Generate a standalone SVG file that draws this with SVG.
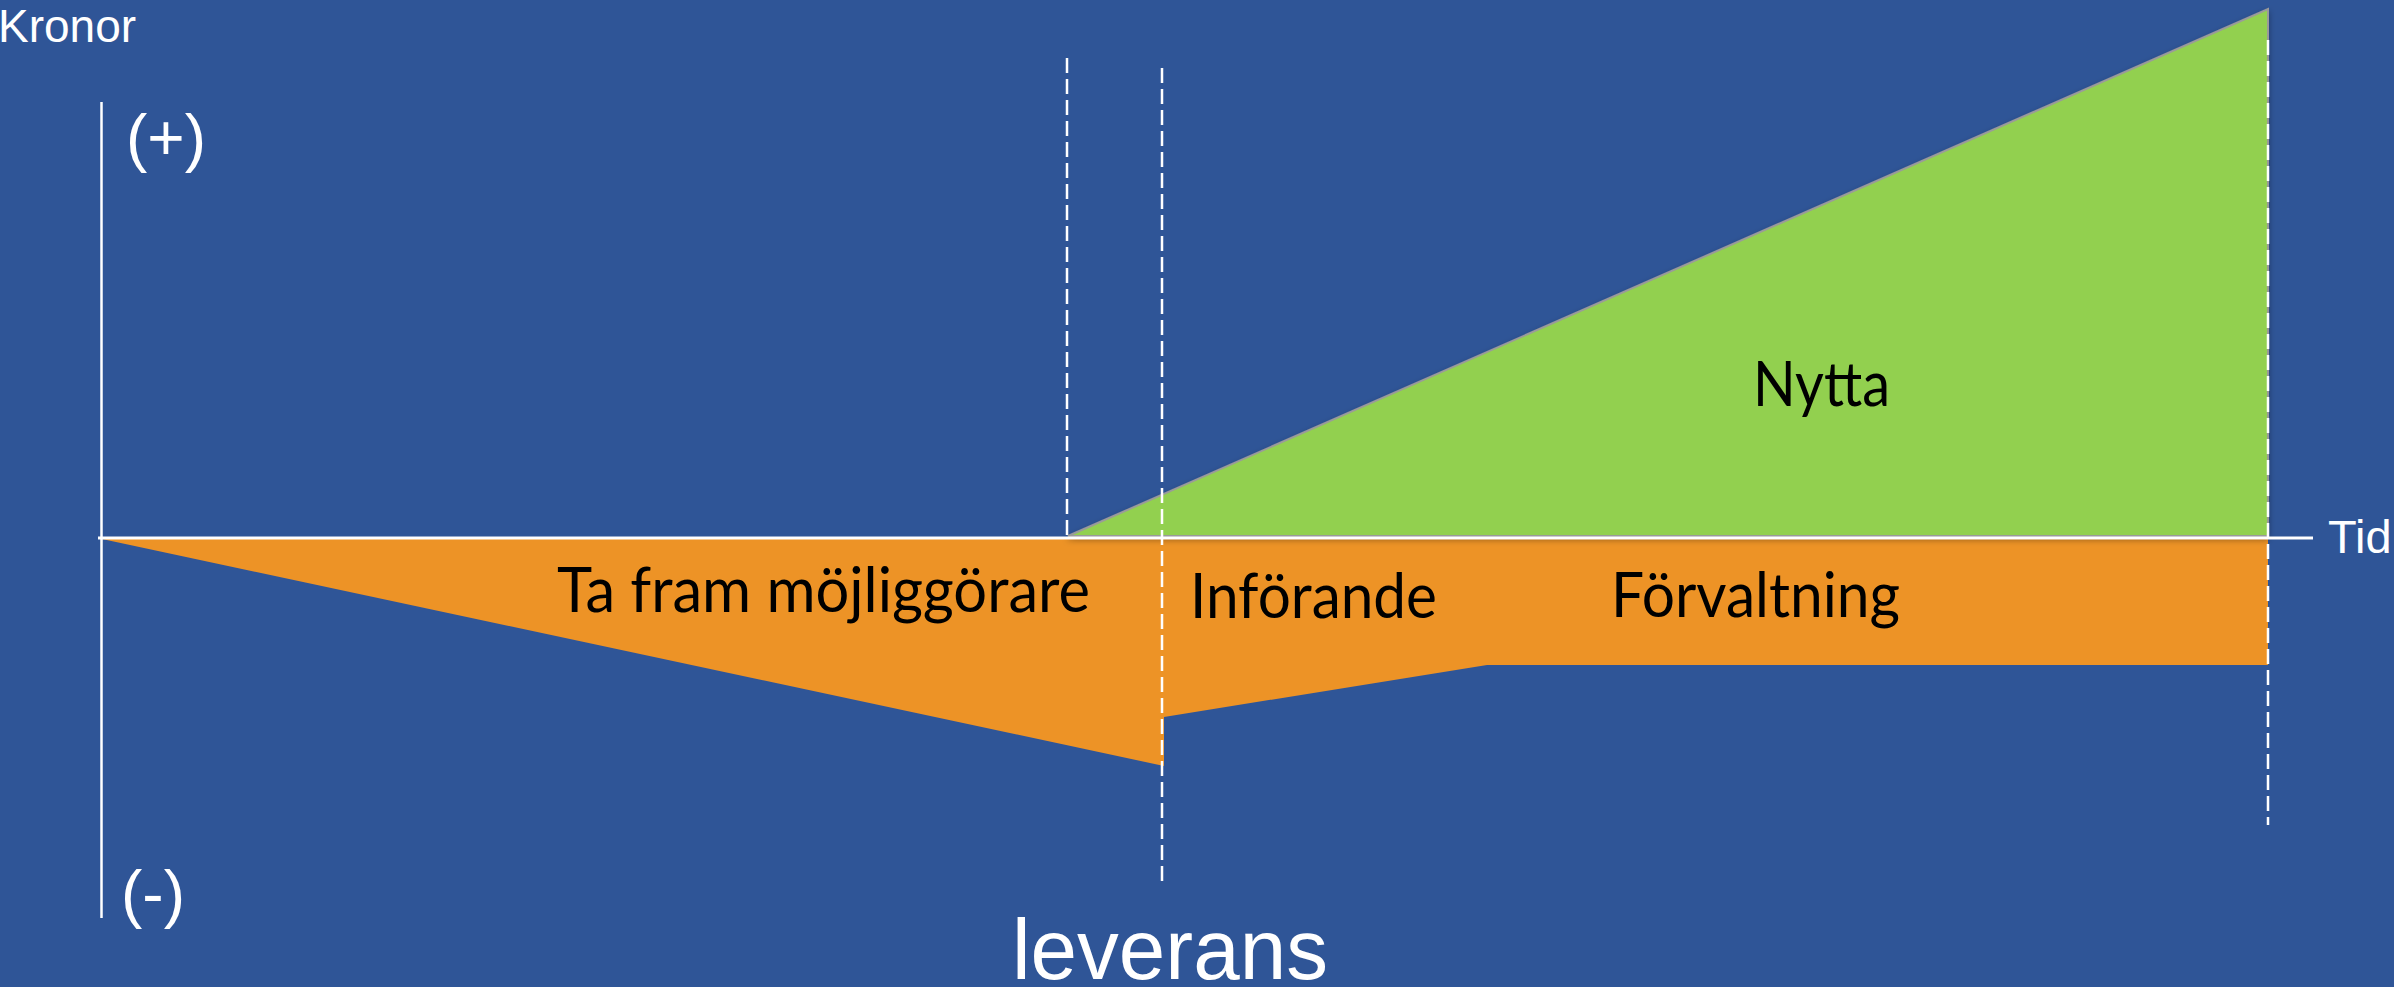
<svg xmlns="http://www.w3.org/2000/svg" width="2394" height="987" viewBox="0 0 2394 987">
<defs>
<style>
.wt{font-family:"Liberation Sans",Arial,sans-serif;fill:#ffffff}
.bt{font-family:Lato,"Noto Sans",sans-serif;fill:#000000;font-size:62px}
.dash{stroke:#ffffff;stroke-width:2.5;stroke-dasharray:15 6;fill:none}
.axis{stroke:#ffffff;fill:none}
</style>
<filter id="sh" x="-5%" y="-5%" width="110%" height="115%">
<feDropShadow dx="0" dy="3" stdDeviation="3" flood-color="#000" flood-opacity="0.35"/>
</filter>
</defs>
<rect x="0" y="0" width="2394" height="987" fill="#2F5597"/>
<g id="orange-develop">
<polygon points="102,539 1164,539 1164,766" fill="#ED9326"/>
</g>
<g id="orange-run">
<polygon points="1164,539 2268,539 2268,665 1487,665 1164,717" fill="#ED9326"/>
</g>
<g id="nytta-area">
<polygon points="1068,536 2268,9 2268,536" fill="#92D050" stroke="#9a9a9a" stroke-width="2" filter="url(#sh)"/>
</g>
<g id="connectors">
<line class="axis" x1="101.5" y1="102" x2="101.5" y2="918" stroke-width="2.5"/>
<line class="axis" x1="98" y1="538" x2="2313" y2="538" stroke-width="3"/>
<line class="dash" x1="1067" y1="58" x2="1067" y2="536"/>
<line class="dash" x1="1162" y1="68" x2="1162" y2="886"/>
<line class="dash" x1="2268" y1="40" x2="2268" y2="825"/>
</g>
<g id="labels">
<text class="wt" x="-2" y="42" font-size="46">Kronor</text>
<text class="wt" x="126" y="160" font-size="64">(+)</text>
<text class="wt" x="121" y="916" font-size="64">(-)</text>
<text class="wt" x="2328" y="553" font-size="47">Tid</text>
<text class="wt" x="1012" y="979" font-size="86" textLength="316" lengthAdjust="spacingAndGlyphs">leverans</text>
<text class="bt" x="1753" y="406" font-size="60" textLength="137" lengthAdjust="spacingAndGlyphs">Nytta</text>
<text class="bt" x="557" y="612" textLength="533" lengthAdjust="spacingAndGlyphs">Ta fram möjliggörare</text>
<text class="bt" x="1190" y="618" textLength="247" lengthAdjust="spacingAndGlyphs">Införande</text>
<text class="bt" x="1611" y="617" textLength="289" lengthAdjust="spacingAndGlyphs">Förvaltning</text>
</g>
</svg>
